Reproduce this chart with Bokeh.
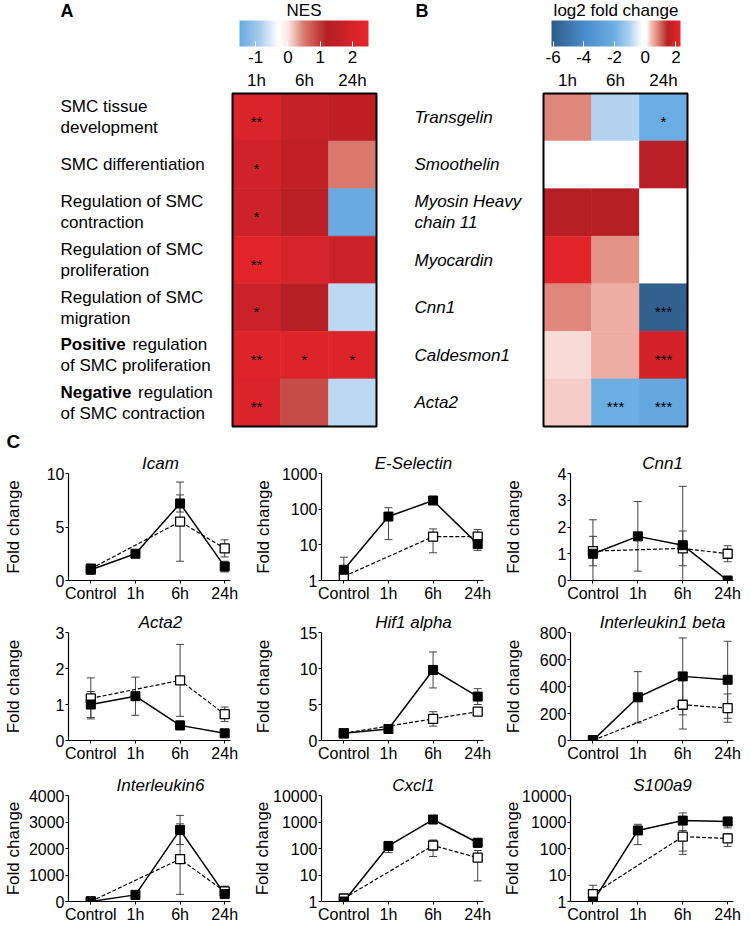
import numpy as np
from bokeh.plotting import figure
from bokeh.layouts import column, row
from bokeh.models import (ColumnDataSource, LinearColorMapper, ColorBar, FixedTicker,
                          Range1d, Label, NumeralTickFormatter, Title)
from bokeh.core.properties import value
from bokeh.embed import file_html
from bokeh.resources import INLINE

FONT = "Liberation Sans"

# ---------------- Panel A : NES heatmap ----------------
nes_times = ["1h", "6h", "24h"]
nes_terms = ["SMC tissue development", "SMC differentiation",
             "Regulation of SMC contraction", "Regulation of SMC proliferation",
             "Regulation of SMC migration", "Positive regulation of SMC proliferation",
             "Negative regulation of SMC contraction"]
nes_term_lines = [["SMC tissue", "development"], ["SMC differentiation"],
                  ["Regulation of SMC", "contraction"], ["Regulation of SMC", "proliferation"],
                  ["Regulation of SMC", "migration"], ["Positive regulation", "of SMC proliferation"],
                  ["Negative regulation", "of SMC contraction"]]
nes_bold_words = {5: "Positive", 6: "Negative"}
nes_1h = [2.1, 1.9, 1.8, 2.35, 1.75, 2.2, 2.1]
nes_6h = [1.6, 1.5, 1.35, 2.0, 1.25, 2.2, 0.85]
nes_24h = [1.45, 0.5, -1.5, 1.75, -0.75, 2.2, -0.75]
nes_sig_1h = ["**", "*", "*", "**", "*", "**", "**"]
nes_sig_6h = ["", "", "", "", "", "*", ""]
nes_sig_24h = ["", "", "", "", "", "*", ""]
nes_ticks = [-1, 0, 1, 2]
nes_low, nes_high = -1.5, 2.5

# ---------------- Panel B : log2 fold change heatmap ----------------
fc_times = ["1h", "6h", "24h"]
fc_genes = ["Transgelin", "Smoothelin", "Myosin Heavy chain 11", "Myocardin",
            "Cnn1", "Caldesmon1", "Acta2"]
fc_gene_lines = [["Transgelin"], ["Smoothelin"], ["Myosin Heavy", "chain 11"], ["Myocardin"],
                 ["Cnn1"], ["Caldesmon1"], ["Acta2"]]
fc_1h = [0.8, 0.0, 1.5, 2.2, 0.8, 0.25, 0.33]
fc_6h = [-1.0, 0.0, 1.5, 0.72, 0.5, 0.5, -2.0]
fc_24h = [-2.1, 1.55, 0.0, 0.0, -5.9, 1.95, -2.4]
fc_sig_1h = ["", "", "", "", "", "", ""]
fc_sig_6h = ["", "", "", "", "", "", "***"]
fc_sig_24h = ["*", "", "", "", "***", "***", "***"]
fc_ticks = [-6, -4, -2, 0, 2]
fc_low, fc_high = -6.1, 2.3

# ---------------- Panel C : qPCR time courses ----------------
tp_labels = ["Control", "1h", "6h", "24h"]
open_tp = ["Control", "6h", "24h"]

icam_filled = [1.0, 2.5, 7.2, 1.3]
icam_filled_err = [0.3, 0.3, 0.8, 0.5]
icam_open = [1.1, 5.5, 3.0]
icam_open_err = [0.4, 3.7, 0.8]
icam_ticks = [0, 5, 10]

esel_filled = [2.0, 62, 175, 10.5]
esel_filled_err = [2.5, 48, 20, 1.5]
esel_open = [1.3, 17, 17]
esel_open_err = [1.0, 11, 10]
esel_ticks = [1, 10, 100, 1000]

cnn1_filled = [1.0, 1.65, 1.32, 0.0]
cnn1_filled_err = [1.27, 1.3, 2.2, 0.0]
cnn1_open = [1.1, 1.2, 1.0]
cnn1_open_err = [0.55, 0.65, 0.3]
cnn1_ticks = [0, 1, 2, 3, 4]

acta2_filled = [1.0, 1.23, 0.42, 0.2]
acta2_filled_err = [0.36, 0.53, 0.12, 0.05]
acta2_open = [1.17, 1.67, 0.73]
acta2_open_err = [0.57, 1.0, 0.2]
acta2_ticks = [0, 1, 2, 3]

hif1_filled = [1.0, 1.6, 9.8, 6.1]
hif1_filled_err = [0.2, 0.2, 2.5, 1.1]
hif1_open = [1.0, 3.0, 4.0]
hif1_open_err = [0.2, 1.0, 0.3]
hif1_ticks = [0, 5, 10, 15]

il1b_filled = [1, 320, 475, 450]
il1b_filled_err = [1, 190, 285, 285]
il1b_open = [1, 265, 240]
il1b_open_err = [1, 180, 105]
il1b_ticks = [0, 200, 400, 600, 800]

il6_filled = [1, 250, 2700, 280]
il6_filled_err = [1, 40, 550, 120]
il6_open = [1, 1600, 380]
il6_open_err = [1, 1330, 200]
il6_ticks = [0, 1000, 2000, 3000, 4000]

cxcl1_filled = [1.0, 125, 1240, 165]
cxcl1_filled_err = [0.1, 55, 150, 55]
cxcl1_open = [1.3, 130, 45]
cxcl1_open_err = [0.3, 80, 39]
cxcl1_ticks = [1, 10, 100, 1000, 10000]

s100_filled = [1.0, 480, 1130, 1050]
s100_filled_err = [0.1, 340, 1070, 450]
s100_open = [1.9, 280, 240]
s100_open_err = [2.2, 200, 120]
s100_ticks = [1, 10, 100, 1000, 10000]

# ---------------- styling / layout ----------------
NES_STOPS = [(-1.5, "#6aaae0"), (-0.9, "#a6cbee"), (-0.3, "#ffffff"), (0.0, "#fbe9e7"),
             (0.5, "#d97a6e"), (1.2, "#b41f25"), (2.5, "#e8262c")]
FC_STOPS = [(-6.1, "#2f5d8a"), (-4.0, "#4a8bcb"), (-2.0, "#6cafe3"), (-1.0, "#b3d3f0"),
            (-0.2, "#ffffff"), (0.1, "#ffffff"), (0.3, "#f6d0cb"), (0.5, "#efb0a6"),
            (0.8, "#e08a7c"), (1.5, "#b51f24"), (2.3, "#e8262c")]

# Arial / Liberation Sans advance widths (per 1000 em), used to position texts
CHAR_W = {"I": 278, "c": 500, "a": 556, "m": 833, "E": 667, "-": 333, "S": 667, "e": 556,
          "l": 222, "t": 278, "i": 222, "n": 556, "C": 722, "1": 556, "A": 667, "2": 556,
          "H": 722, "f": 278, " ": 278, "p": 556, "h": 556, "b": 556, "k": 500, "u": 556,
          "r": 333, "6": 556, "x": 500, "0": 556, "9": 556}
BOLD_W = {"P": 667, "o": 611, "s": 556, "i": 278, "t": 333, "v": 556, "e": 556, "N": 722,
          "g": 611, "a": 556}


def text_w(s, size, table=CHAR_W):
    return sum(table.get(ch, 556) for ch in s) * size / 1000.0


def build_palette(stops, lo, hi, n=256):
    sv = [s for s, _ in stops]
    rgb = np.array([[int(c[i:i + 2], 16) for i in (1, 3, 5)] for _, c in stops], dtype=float)
    out = []
    for v in np.linspace(lo, hi, n):
        r, g, b = (int(round(np.interp(v, sv, rgb[:, k]))) for k in range(3))
        out.append("#%02x%02x%02x" % (r, g, b))
    return out


TOP_H = 428
HM_TOP = 93
ROW_PX = 333 / 7.0
COL_PX = 48
CB_W, CB_H = 129, 26
CB_BAR_TOP = 20
CB_K = 45


def heat_panel(width, hm_left_px, times, row_lines, col_vals, col_sig, mapper, ticks,
               cb_left_px, cb_title, letter, letter_px, label_px, italic, bold_words=None):
    n_rows, n_cols = len(row_lines), len(times)
    xl = -hm_left_px / COL_PX
    xr = xl + width / COL_PX
    yt = -HM_TOP / ROW_PX
    yb = yt + TOP_H / ROW_PX
    p = figure(width=width, height=TOP_H, x_range=Range1d(xl, xr), y_range=Range1d(yb, yt),
               output_backend="svg", toolbar_location=None, min_border=0,
               x_axis_location=None, y_axis_location=None)
    p.outline_line_color = None
    p.grid.visible = False

    xs, ys, vs, ss = [], [], [], []
    for j in range(n_cols):
        for i in range(n_rows):
            xs.append(j + 0.5)
            ys.append(i + 0.5)
            vs.append(col_vals[j][i])
            ss.append(col_sig[j][i])
    src = ColumnDataSource(dict(x=xs, y=ys, v=vs, s=ss))
    cmap = {"field": "v", "transform": mapper}
    p.rect("x", "y", 1, 1, source=src, fill_color=cmap, line_color=cmap, line_width=0.6)
    p.text("x", "y", text="s", source=src, text_align="center", text_baseline="middle",
           y_offset=4, text_font=value(FONT), text_font_size="15px", text_color="black")
    p.quad(left=0, right=n_cols, top=0, bottom=n_rows, fill_color=None,
           line_color="black", line_width=2)

    # column labels
    p.text(x=[j + 0.5 for j in range(n_cols)], y=[0] * n_cols, text=times,
           text_align="center", text_baseline="bottom", y_offset=-4,
           text_font=value(FONT), text_font_size="17px", text_color="black")

    # row labels
    lab_x = xl + label_px / COL_PX
    nx, ny, nt, nxo, nyo = [], [], [], [], []
    bx, by, bt, byo = [], [], [], []
    for i, lines in enumerate(row_lines):
        n = len(lines)
        for k, line in enumerate(lines):
            off = (k - (n - 1) / 2.0) * 21
            xo = 0.0
            if bold_words and i in bold_words and k == 0:
                w = bold_words[i]
                bx.append(lab_x); by.append(i + 0.5); bt.append(w); byo.append(off)
                xo = text_w(w, 17, BOLD_W) + 0.278 * 17 + 2
                line = line[len(w):].strip()
            nx.append(lab_x); ny.append(i + 0.5); nt.append(line); nxo.append(xo); nyo.append(off)
    lsrc = ColumnDataSource(dict(x=nx, y=ny, t=nt, xo=nxo, yo=nyo))
    p.text("x", "y", text="t", source=lsrc, x_offset="xo", y_offset="yo",
           text_align="left", text_baseline="middle", text_font=value(FONT),
           text_font_size="17px", text_color="black",
           text_font_style="italic" if italic else "normal")
    if bx:
        bsrc = ColumnDataSource(dict(x=bx, y=by, t=bt, yo=byo))
        p.text("x", "y", text="t", source=bsrc, y_offset="yo", text_align="left",
               text_baseline="middle", text_font=value(FONT), text_font_size="17px",
               text_color="black", text_font_style="bold")

    cb = ColorBar(color_mapper=mapper, orientation="horizontal", width=CB_W, height=CB_H,
                  padding=0, margin=0, label_standoff=4,
                  ticker=FixedTicker(ticks=ticks), formatter=NumeralTickFormatter(format="0"),
                  major_label_text_font=FONT, major_label_text_font_size="17px",
                  major_label_text_color="black",
                  major_tick_line_color="white", major_tick_in=5, major_tick_out=0,
                  minor_tick_line_color=None, bar_line_color=None, border_line_color=None,
                  background_fill_color=None,
                  location=(cb_left_px, TOP_H - CB_BAR_TOP - CB_K))
    p.add_layout(cb)
    p.add_layout(Label(x=cb_left_px + CB_W / 2, y=TOP_H - 10, x_units="screen", y_units="screen",
                       text=cb_title, text_align="center", text_baseline="middle",
                       text_font=FONT, text_font_size="17px", text_color="black"))
    p.add_layout(Label(x=letter_px, y=TOP_H, x_units="screen", y_units="screen",
                       text=letter, text_align="left", text_baseline="top",
                       text_font=FONT, text_font_size="18px", text_font_style="bold",
                       text_color="black"))
    return p


nes_mapper = LinearColorMapper(palette=build_palette(NES_STOPS, nes_low, nes_high),
                               low=nes_low, high=nes_high)
fc_mapper = LinearColorMapper(palette=build_palette(FC_STOPS, fc_low, fc_high),
                              low=fc_low, high=fc_high)

pA = heat_panel(380, 232, nes_times, nes_term_lines, [nes_1h, nes_6h, nes_24h],
                [nes_sig_1h, nes_sig_6h, nes_sig_24h], nes_mapper, nes_ticks,
                239, "NES", "A", 60, 60, False, nes_bold_words)
pB = heat_panel(371, 163, fc_times, fc_gene_lines, [fc_1h, fc_6h, fc_24h],
                [fc_sig_1h, fc_sig_6h, fc_sig_24h], fc_mapper, fc_ticks,
                171, "log2 fold change", "B", 35, 34, True)

# ---------------- line panels ----------------
ROW_BORDERS = [(43, 111, 22), (28, 110, 22), (31, 109, 21)]   # top, frame, bottom
COLS = [dict(width=250, left=63, right=20, dist=43),
        dict(width=250, left=66, right=17, dist=46),
        dict(width=251, left=66, right=18, dist=45)]
X_LO, X_HI = -0.5, 3.13
FRAME_W = 167
TICK_OUT, LABEL_STANDOFF, YTICK_SIZE = 3, 1, 16
ERR = "#444444"


def style_title(t, text, offset, size, style, standoff):
    t.text = text
    t.align = "left"
    t.offset = offset
    t.standoff = standoff
    t.vertical_align = "bottom"
    t.text_font = FONT
    t.text_font_size = size
    t.text_font_style = style
    t.text_color = "black"


def line_panel(title, f, fe, o, oe, log, yticks, width, left, right, dist,
               top_b, frame_h, bot_b, letter=None):
    lo, hi = yticks[0], yticks[-1]
    p = figure(width=width, height=top_b + frame_h + bot_b, x_range=Range1d(X_LO, X_HI),
               y_range=Range1d(lo, hi), y_axis_type="log" if log else "linear",
               output_backend="svg", toolbar_location=None, min_border_left=left,
               min_border_right=right, min_border_top=top_b, min_border_bottom=bot_b)
    p.outline_line_color = None
    p.grid.visible = False
    xf = list(range(len(tp_labels)))
    xo = [tp_labels.index(t) for t in open_tp]

    for xs, vals, errs in ((xo, o, oe), (xf, f, fe)):
        v = np.array(vals, dtype=float)
        e = np.array(errs, dtype=float)
        up = v + e
        dn = v - e
        if log:
            seg_dn = np.where(dn > 0, dn, lo * 1e-3)
            cap_dn = np.where(dn > 0, dn, np.nan)
        else:
            seg_dn = dn
            cap_dn = dn
        src = ColumnDataSource(dict(x=np.array(xs, dtype=float), up=up, dn=seg_dn, cdn=cap_dn))
        p.segment("x", "dn", "x", "up", source=src, line_color=ERR, line_width=1)
        p.scatter("x", "up", source=src, marker="dash", size=8, line_color=ERR, line_width=1)
        p.scatter("x", "cdn", source=src, marker="dash", size=8, line_color=ERR, line_width=1)

    p.line(xo, o, line_color="black", line_width=1.2, line_dash="4 2")
    p.line(xf, f, line_color="black", line_width=1.5)
    p.scatter(xo, o, marker="square", size=9, fill_color="white", line_color="black",
              line_width=1.3)
    p.scatter(xf, f, marker="square", size=9, fill_color="black", line_color="black")

    xa, ya = p.xaxis[0], p.yaxis[0]
    xa.ticker = FixedTicker(ticks=xf)
    xa.major_label_overrides = {i: t for i, t in enumerate(tp_labels)}
    xa.major_label_standoff = 1
    xa.major_label_text_font_size = "16px"
    ya.ticker = FixedTicker(ticks=yticks)
    ya.formatter = NumeralTickFormatter(format="0")
    ya.major_label_standoff = LABEL_STANDOFF
    ya.major_label_text_font_size = "%dpx" % YTICK_SIZE
    for ax in (xa, ya):
        ax.axis_line_color = "black"
        ax.axis_line_width = 1.2
        ax.major_tick_line_color = "black"
        ax.major_tick_in = 0
        ax.major_tick_out = TICK_OUT
        ax.minor_tick_line_color = None
        ax.major_label_text_font = FONT
        ax.major_label_text_color = "black"

    # y axis title kept at the same distance from the axis in every panel
    tick_w = max(text_w(str(int(t)), YTICK_SIZE) for t in yticks)
    ya.axis_label = "Fold change"
    ya.axis_label_text_font = FONT
    ya.axis_label_text_font_size = "17px"
    ya.axis_label_text_font_style = "normal"
    ya.axis_label_text_color = "black"
    ya.axis_label_standoff = int(round(dist - TICK_OUT - LABEL_STANDOFF - tick_w))

    # gene title centred over the data points
    px_per_unit = FRAME_W / (X_HI - X_LO)
    centre = (np.mean(xf) - X_LO) * px_per_unit
    gene_offset = centre - text_w(title, 17) / 2.0
    if letter:
        # panel letter is the outer title, gene name sits next to the frame
        style_title(p.title, letter, -left + 1, "19px", "bold", 0)
        gt = Title(text=title)
        style_title(gt, title, gene_offset, "17px", "italic", 1)
        p.add_layout(gt, "above")
    else:
        style_title(p.title, title, gene_offset, "17px", "italic", 2)
    return p


panels = [
    ("Icam", icam_filled, icam_filled_err, icam_open, icam_open_err, False, icam_ticks),
    ("E-Selectin", esel_filled, esel_filled_err, esel_open, esel_open_err, True, esel_ticks),
    ("Cnn1", cnn1_filled, cnn1_filled_err, cnn1_open, cnn1_open_err, False, cnn1_ticks),
    ("Acta2", acta2_filled, acta2_filled_err, acta2_open, acta2_open_err, False, acta2_ticks),
    ("Hif1 alpha", hif1_filled, hif1_filled_err, hif1_open, hif1_open_err, False, hif1_ticks),
    ("Interleukin1 beta", il1b_filled, il1b_filled_err, il1b_open, il1b_open_err, False, il1b_ticks),
    ("Interleukin6", il6_filled, il6_filled_err, il6_open, il6_open_err, False, il6_ticks),
    ("Cxcl1", cxcl1_filled, cxcl1_filled_err, cxcl1_open, cxcl1_open_err, True, cxcl1_ticks),
    ("S100a9", s100_filled, s100_filled_err, s100_open, s100_open_err, True, s100_ticks),
]

rows = []
for r in range(3):
    top_b, frame_h, bot_b = ROW_BORDERS[r]
    figs = []
    for c in range(3):
        cfg = COLS[c]
        figs.append(line_panel(*panels[r * 3 + c], cfg["width"], cfg["left"], cfg["right"],
                               cfg["dist"], top_b, frame_h, bot_b,
                               letter="C" if (r == 0 and c == 0) else None))
    rows.append(row(*figs))

layout = column(row(pA, pB), *rows)
open("out.html", "w").write(file_html(layout, INLINE))
